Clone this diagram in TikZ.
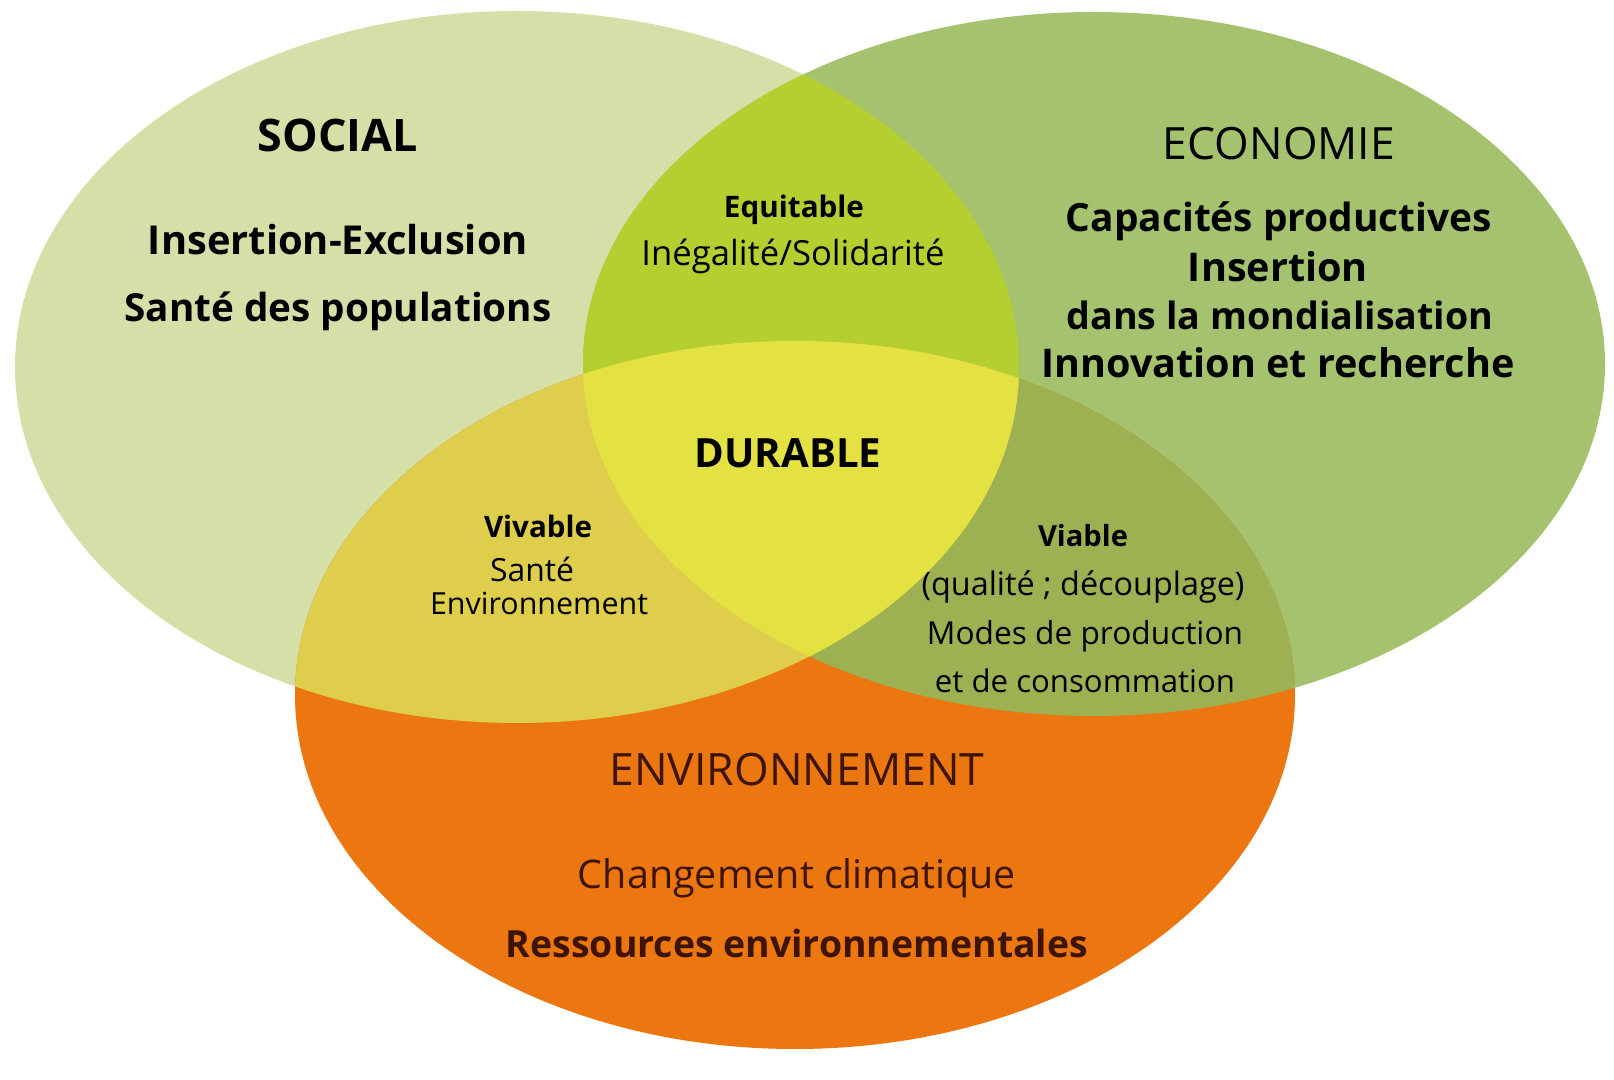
\documentclass[tikz,border=0pt]{standalone}
\usepackage{fontspec}
\setmainfont{Open Sans}
\usepackage{graphicx}
\usepackage{xcolor}
\newlength\upx \setlength\upx{0.5pt}
\newcommand\fw[2]{\resizebox{#1\upx}{!}{#2}}
\definecolor{socC}{RGB}{213,223,168}
\definecolor{ecoC}{RGB}{165,195,110}
\definecolor{envC}{RGB}{236,118,16}
\definecolor{equC}{RGB}{182,207,48}
\definecolor{durC}{RGB}{228,226,66}
\definecolor{vivC}{RGB}{222,206,76}
\definecolor{viaC}{RGB}{157,176,82}
\definecolor{brn}{RGB}{60,20,0}
\begin{document}
\begin{tikzpicture}[x=0.5pt,y=-0.5pt,
  txt/.style={inner sep=0pt, anchor=base, text=black},
  etxt/.style={inner sep=0pt, anchor=base, text=brn}]
\useasboundingbox (0,0) rectangle (1614,1080);
\fill[white] (0,0) rectangle (1614,1080);
% base sets
\fill[socC] (517,367) ellipse [x radius=502, y radius=356];
\fill[ecoC] (1094,364) ellipse [x radius=511, y radius=352];
\fill[envC] (795,695) ellipse [x radius=500, y radius=354];
% economie & environnement
\begin{scope}
  \clip (1094,364) ellipse [x radius=511, y radius=352];
  \fill[viaC] (795,695) ellipse [x radius=500, y radius=354];
\end{scope}
% social intersections
\begin{scope}
  \clip (517,367) ellipse [x radius=502, y radius=356];
  \fill[equC] (1094,364) ellipse [x radius=511, y radius=352];
  \fill[vivC] (795,695) ellipse [x radius=500, y radius=354];
  \clip (1094,364) ellipse [x radius=511, y radius=352];
  \fill[durC] (795,695) ellipse [x radius=500, y radius=354];
\end{scope}
% SOCIAL
\node[txt] (social) at (338,152) {\fw{160}{\bfseries SOCIAL}};
\node[txt] (soc1) at (338,255) {\fw{380}{\bfseries Insertion-Exclusion}};
\node[txt] (soc2) at (338,322) {\fw{427}{\bfseries Santé des populations}};
% ECONOMIE
\node[txt] (eco) at (1279,160) {\fw{232}{ECONOMIE}};
\node[txt] (eco1) at (1279,232) {\fw{426}{\bfseries Capacités productives}};
\node[txt] (eco2) at (1278,282) {\fw{180}{\bfseries Insertion}};
\node[txt] (eco3) at (1280,330) {\fw{427}{\bfseries dans la mondialisation}};
\node[txt] (eco4) at (1278,378) {\fw{473}{\bfseries Innovation et recherche}};
% Equitable
\node[txt] (equ) at (794,218) {\fw{140}{\bfseries Equitable}};
\node[txt] (equ1) at (793,266) {\fw{303}{Inégalité/Solidarité}};
% Durable
\node[txt] (dur) at (788,468) {\fw{187}{\bfseries DURABLE}};
% Vivable
\node[txt] (viv) at (538,538) {\fw{108}{\bfseries Vivable}};
\node[txt] (viv1) at (532,582) {\fw{84}{Santé}};
\node[txt] (viv2) at (539,615) {\fw{218}{Environnement}};
% Viable
\node[txt] (via) at (1083,547) {\fw{90}{\bfseries Viable}};
\node[txt] (via1) at (1083,596) {\fw{323}{(qualité ; découplage)}};
\node[txt] (via2) at (1085,645) {\fw{316}{Modes de production}};
\node[txt] (via3) at (1085,693) {\fw{300}{et de consommation}};
% Environnement
\node[etxt] (env) at (797,785) {\fw{375}{ENVIRONNEMENT}};
\node[etxt] (env1) at (797,888) {\fw{438}{Changement climatique}};
\node[etxt] (env2) at (797,957) {\fw{582}{\bfseries Ressources environnementales}};
\end{tikzpicture}
\end{document}
